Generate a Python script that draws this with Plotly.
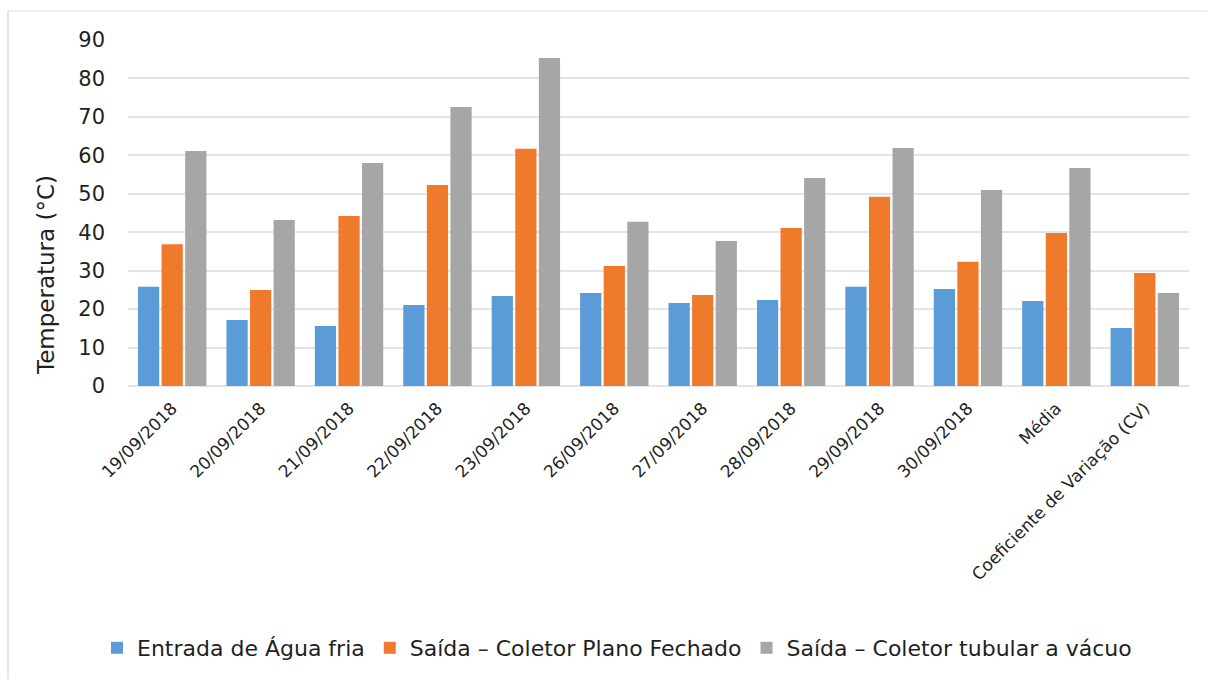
import plotly.graph_objects as go

# Categories (dates plus summary columns)
categorias = [
    "19/09/2018", "20/09/2018", "21/09/2018", "22/09/2018", "23/09/2018",
    "26/09/2018", "27/09/2018", "28/09/2018", "29/09/2018", "30/09/2018",
    "Média", "Coeficiente de Variação (CV)",
]

# Temperatures (°C)
entrada_agua_fria = [25.8, 17.2, 15.6, 21.1, 23.4, 24.2, 21.6, 22.4, 25.8, 25.2, 22.1, 15.1]
saida_plano_fechado = [36.9, 25.0, 44.2, 52.3, 61.7, 31.2, 23.7, 41.1, 49.2, 32.3, 39.8, 29.4]
saida_tubular_vacuo = [61.1, 43.2, 58.0, 72.6, 85.3, 42.7, 37.7, 54.1, 61.9, 51.0, 56.7, 24.2]

y_ticks = [0, 10, 20, 30, 40, 50, 60, 70, 80, 90]

FONT = "DejaVu Sans"
TEXT = "#1F1F1F"
GRID = "#E1E5EA"

series = [
    ("Entrada de Água fria", entrada_agua_fria, "#5A9BD8"),
    ("Saída – Coletor Plano Fechado", saida_plano_fechado, "#EF7A2C"),
    ("Saída – Coletor tubular a vácuo", saida_tubular_vacuo, "#A6A6A6"),
]

fig = go.Figure()
for nome, valores, cor in series:
    fig.add_trace(go.Bar(
        name=nome, x=categorias, y=valores,
        marker=dict(color=cor, line=dict(width=0)),
    ))

W, H = 1208, 679
L, R, T, B = 128, 19, 40, 293
pw, ph = W - L - R, H - T - B

def px_x(x):
    return (x - L) / pw

def px_y(y):
    return (H - B - y) / ph

fig.update_layout(
    width=W, height=H,
    margin=dict(l=L, r=R, t=T, b=B, autoexpand=False),
    paper_bgcolor="white", plot_bgcolor="white",
    font=dict(family=FONT, color=TEXT),
    barmode="group", bargap=0.2, bargroupgap=0.1,
    showlegend=True,
    legend=dict(
        orientation="h", x=px_x(617), xanchor="center",
        y=px_y(648), yanchor="middle",
        font=dict(size=22, family=FONT, color=TEXT),
        itemwidth=30, traceorder="normal",
    ),
    xaxis=dict(
        tickangle=-45, tickfont=dict(size=17, family=FONT, color=TEXT),
        showgrid=False, showline=False, ticks="", ticklabelstandoff=8,
    ),
    yaxis=dict(
        range=[0, 90], tickvals=y_ticks,
        tickfont=dict(size=21, family=FONT, color=TEXT),
        showgrid=True, gridcolor=GRID, gridwidth=1.5,
        zeroline=True, zerolinecolor=GRID, zerolinewidth=1.5,
        showline=False, ticks="", ticklabelstandoff=22,
    ),
    annotations=[
        dict(text="Temperatura (°C)", textangle=-90, showarrow=False,
             xref="paper", yref="paper", x=px_x(46), y=px_y(275),
             xanchor="center", yanchor="middle",
             font=dict(size=23, family=FONT, color=TEXT)),
    ],
    shapes=[
        dict(type="line", xref="paper", yref="paper",
             x0=px_x(8), x1=px_x(1207), y0=px_y(11), y1=px_y(11),
             line=dict(color="#D9DEE5", width=1)),
        dict(type="line", xref="paper", yref="paper",
             x0=px_x(8), x1=px_x(8), y0=px_y(11), y1=px_y(679),
             line=dict(color="#D9DEE5", width=1.5)),
    ],
)

fig.write_html("out.html")
